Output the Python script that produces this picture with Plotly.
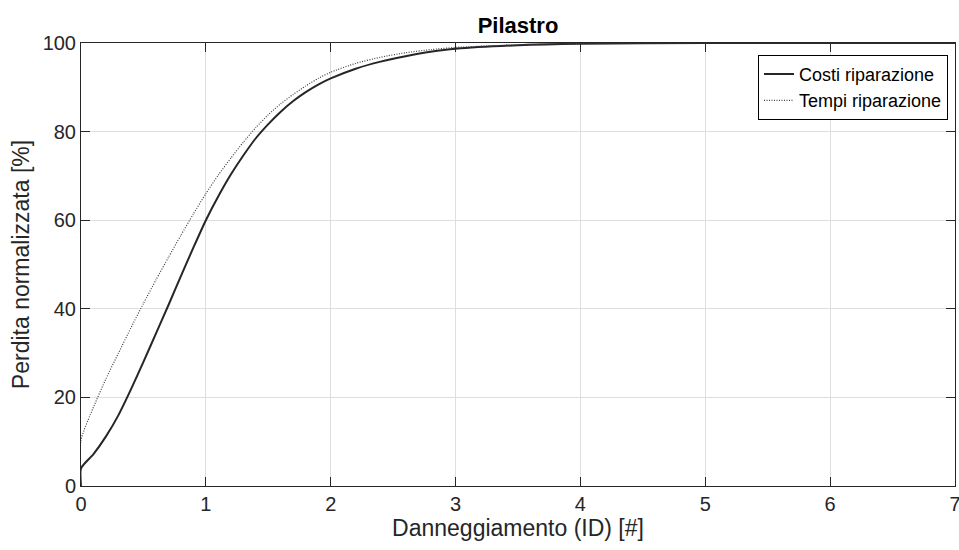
import plotly.graph_objects as go

# Danneggiamento (ID) values
x_costi = [0, 0, 0.1, 0.2, 0.3, 0.4, 0.5, 0.6, 0.7, 0.8, 0.9, 1.0, 1.1, 1.2, 1.3, 1.4, 1.5,
           1.6, 1.7, 1.8, 1.9, 2.0, 2.2, 2.4, 2.6, 2.8, 3.0, 3.5, 4.0, 5.0, 6.0, 7.0]
y_costi = [0, 4.0, 7.2, 11.2, 16.0, 21.8, 28.0, 34.4, 40.8, 47.4, 53.8, 60.0, 65.4, 70.3, 74.6, 78.5, 81.7,
           84.5, 86.9, 88.9, 90.6, 92.0, 94.2, 95.8, 97.0, 98.0, 98.7, 99.5, 99.85, 99.98, 100, 100]

x_tempi = [0, 0, 0.1, 0.2, 0.3, 0.4, 0.5, 0.6, 0.7, 0.8, 0.9, 1.0, 1.1, 1.2, 1.3, 1.4, 1.5,
           1.6, 1.7, 1.8, 1.9, 2.0, 2.2, 2.4, 2.6, 2.8, 3.0, 3.5, 4.0, 5.0, 6.0, 7.0]
y_tempi = [0, 10.4, 17.8, 24.2, 30.0, 35.7, 41.2, 46.5, 51.6, 56.6, 61.4, 66.0, 70.2, 74.0, 77.6, 80.9, 83.8,
           86.3, 88.4, 90.3, 92.0, 93.4, 95.4, 96.8, 97.8, 98.5, 99.0, 99.6, 99.9, 100, 100, 100]

x_ticks = [0, 1, 2, 3, 4, 5, 6, 7]
y_ticks = [0, 20, 40, 60, 80, 100]

FONT = "Liberation Sans, Arial, sans-serif"
AX = "#262626"

fig = go.Figure()
fig.add_trace(go.Scatter(x=x_costi, y=y_costi, mode="lines", name="Costi riparazione",
                         line=dict(color="#262626", width=2, shape="spline", smoothing=0.6)))
fig.add_trace(go.Scatter(x=x_tempi, y=y_tempi, mode="lines", name="Tempi riparazione",
                         line=dict(color="#404040", width=1.2, dash="1px,1.5px",
                                   shape="spline", smoothing=0.6)))

axis_common = dict(showline=True, linecolor=AX, linewidth=1, mirror="ticks",
                   ticks="inside", ticklen=9, tickcolor=AX, automargin=False,
                   showgrid=True, gridcolor="#dedede", gridwidth=1,
                   zeroline=False, tickfont=dict(family=FONT, size=20, color=AX))

fig.update_xaxes(range=[0, 7], tickvals=x_ticks, ticktext=[str(v) for v in x_ticks],
                 ticklabeloverflow="allow",
                 title=dict(text="Danneggiamento (ID) [#]", font=dict(family=FONT, size=23, color=AX),
                            standoff=4),
                 **axis_common)
fig.update_yaxes(range=[0, 100], tickvals=y_ticks, ticktext=[str(v) for v in y_ticks],
                 ticklabeloverflow="allow",
                 title=dict(text="Perdita normalizzata [%]", font=dict(family=FONT, size=23, color=AX),
                            standoff=6),
                 **axis_common)

fig.update_layout(
    width=959, height=550,
    margin=dict(l=81, r=4, t=43, b=64, autoexpand=False),
    paper_bgcolor="white", plot_bgcolor="white",
    title=dict(text="<b>Pilastro</b>", x=0.5, xref="paper", xanchor="center",
               y=1 - 25.5 / 550, yref="container", yanchor="middle",
               font=dict(family=FONT, size=22, color="black")),
    legend=dict(x=0.992, y=0.9736, xanchor="right", yanchor="top",
                bgcolor="white", bordercolor="black", borderwidth=1,
                font=dict(family=FONT, size=18, color="black"),
                tracegroupgap=0, itemwidth=30),
    showlegend=True,
)

fig.write_html("out.html")
